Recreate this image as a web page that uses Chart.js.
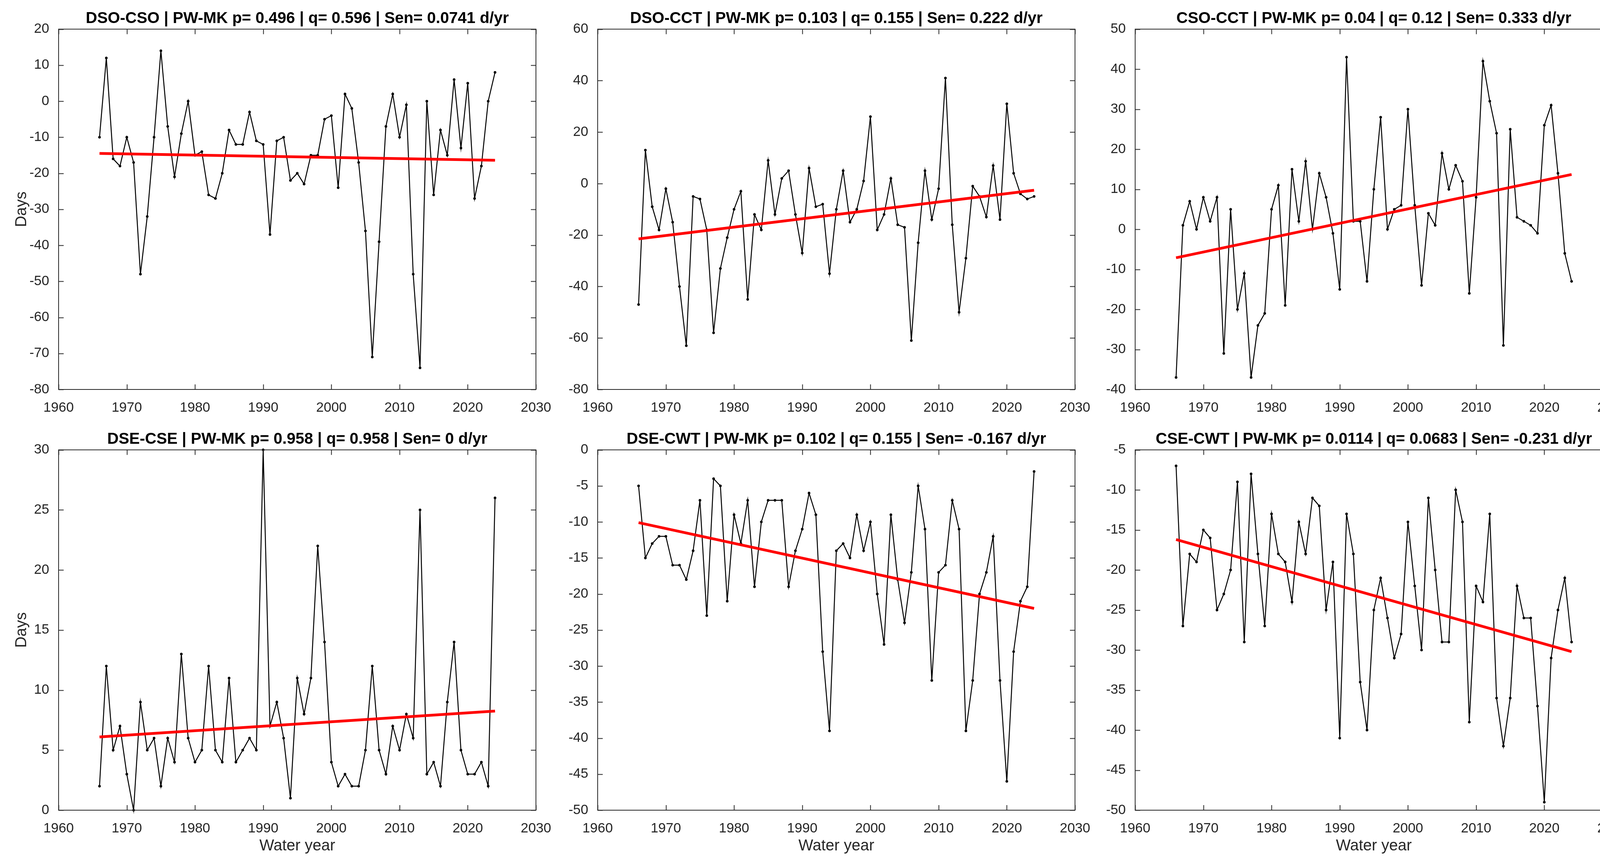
<!DOCTYPE html>
<html>
<head>
<meta charset="utf-8">
<script src="https://cdn.jsdelivr.net/npm/chart.js@4.4.1/dist/chart.umd.min.js"></script>
<style>
  html, body { margin: 0; padding: 0; background: #fff; overflow: hidden; }
  body { position: relative; width: 4204px; height: 2222px; }
  canvas { position: absolute; }
</style>
</head>
<body>
<canvas id="c0"></canvas>
<canvas id="c1"></canvas>
<canvas id="c2"></canvas>
<canvas id="c3"></canvas>
<canvas id="c4"></canvas>
<canvas id="c5"></canvas>
<script>
// water years on the x axis
const years = [1966, 1967, 1968, 1969, 1970, 1971, 1972, 1973, 1974, 1975,
  1976, 1977, 1978, 1979, 1980, 1981, 1982, 1983, 1984, 1985,
  1986, 1987, 1988, 1989, 1990, 1991, 1992, 1993, 1994, 1995,
  1996, 1997, 1998, 1999, 2000, 2001, 2002, 2003, 2004, 2005,
  2006, 2007, 2008, 2009, 2010, 2011, 2012, 2013, 2014, 2015,
  2016, 2017, 2018, 2019, 2020, 2021, 2022, 2023, 2024];

// day differences, one value per year
const dsoCso = [-10, 12, -16, -18, -10, -17, -48, -32, -10, 14,
  -7, -21, -9, 0, -15, -14, -26, -27, -20, -8,
  -12, -12, -3, -11, -12, -37, -11, -10, -22, -20,
  -23, -15, -15, -5, -4, -24, 2, -2, -17, -36,
  -71, -39, -7, 2, -10, -1, -48, -74, 0, -26,
  -8, -15, 6, -13, 5, -27, -18, 0, 8];
const dsoCct = [-47, 13, -9, -18, -2, -15, -40, -63, -5, -6,
  -18, -58, -33, -21, -10, -3, -45, -12, -18, 9,
  -12, 2, 5, -12, -27, 6, -9, -8, -35, -10,
  5, -15, -10, 1, 26, -18, -12, 2, -16, -17,
  -61, -23, 5, -14, -2, 41, -16, -50, -29, -1,
  -5, -13, 7, -14, 31, 4, -4, -6, -5];
const csoCct = [-37, 1, 7, 0, 8, 2, 8, -31, 5, -20,
  -11, -37, -24, -21, 5, 11, -19, 15, 2, 17,
  0, 14, 8, -1, -15, 43, 2, 2, -13, 10,
  28, 0, 5, 6, 30, 6, -14, 4, 1, 19,
  10, 16, 12, -16, 8, 42, 32, 24, -29, 25,
  3, 2, 1, -1, 26, 31, 14, -6, -13];
const dseCse = [2, 12, 5, 7, 3, 0, 9, 5, 6, 2,
  6, 4, 13, 6, 4, 5, 12, 5, 4, 11,
  4, 5, 6, 5, 30, 7, 9, 6, 1, 11,
  8, 11, 22, 14, 4, 2, 3, 2, 2, 5,
  12, 5, 3, 7, 5, 8, 6, 25, 3, 4,
  2, 9, 14, 5, 3, 3, 4, 2, 26];
const dseCwt = [-5, -15, -13, -12, -12, -16, -16, -18, -14, -7,
  -23, -4, -5, -21, -9, -13, -7, -19, -10, -7,
  -7, -7, -19, -14, -11, -6, -9, -28, -39, -14,
  -13, -15, -9, -14, -10, -20, -27, -9, -18, -24,
  -17, -5, -11, -32, -17, -16, -7, -11, -39, -32,
  -20, -17, -12, -32, -46, -28, -21, -19, -3];
const cseCwt = [-7, -27, -18, -19, -15, -16, -25, -23, -20, -9,
  -29, -8, -18, -27, -13, -18, -19, -24, -14, -18,
  -11, -12, -25, -19, -41, -13, -18, -34, -40, -25,
  -21, -26, -31, -28, -14, -22, -30, -11, -20, -29,
  -29, -10, -14, -39, -22, -24, -13, -36, -42, -36,
  -22, -26, -26, -37, -49, -31, -25, -21, -29];

// Sen trend line, value at first and last year
const trendDsoCso = [-14.5, -16.4];
const trendDsoCct = [-21.5, -2.6];
const trendCsoCct = [-7.1, 13.7];
const trendDseCse = [6.1, 8.25];
const trendDseCwt = [-10.1, -22.0];
const trendCseCwt = [-16.2, -30.2];

const titles = [
  "DSO-CSO | PW-MK p= 0.496 | q= 0.596 | Sen= 0.0741 d/yr",
  "DSO-CCT | PW-MK p= 0.103 | q= 0.155 | Sen= 0.222 d/yr",
  "CSO-CCT | PW-MK p= 0.04 | q= 0.12 | Sen= 0.333 d/yr",
  "DSE-CSE | PW-MK p= 0.958 | q= 0.958 | Sen= 0 d/yr",
  "DSE-CWT | PW-MK p= 0.102 | q= 0.155 | Sen= -0.167 d/yr",
  "CSE-CWT | PW-MK p= 0.0114 | q= 0.0683 | Sen= -0.231 d/yr"
];
const series = [dsoCso, dsoCct, csoCct, dseCse, dseCwt, cseCwt];
const trends = [trendDsoCso, trendDsoCct, trendCsoCct, trendDseCse, trendDseCwt, trendCseCwt];
// y axis min, max, step
const yAxes = [[-80, 20, 10], [-80, 60, 20], [-40, 50, 10], [0, 30, 5], [-50, 0, 5], [-50, -5, 5]];

const plotLeft = [150, 1530, 2906];
const plotTop = [75, 1152];
const plotW = 1222, plotH = 922;
const padL = 150, padR = 60, padT = 75, padB = 140;

Chart.defaults.font.family = "'Liberation Sans', Arial, sans-serif";
Chart.defaults.color = "#262626";

// MATLAB style box with inward ticks on all four sides
const boxPlugin = {
  id: "box",
  afterDraw(chart) {
    const ctx = chart.ctx, a = chart.chartArea;
    const sx = chart.scales.x, sy = chart.scales.y;
    const tl = 13;
    ctx.save();
    ctx.strokeStyle = "#262626";
    ctx.lineWidth = 2;
    ctx.beginPath();
    sx.ticks.forEach(t => {
      const px = Math.round(sx.getPixelForValue(t.value)) + 0.5;
      ctx.moveTo(px, a.bottom); ctx.lineTo(px, a.bottom - tl);
      ctx.moveTo(px, a.top); ctx.lineTo(px, a.top + tl);
    });
    sy.ticks.forEach(t => {
      const py = Math.round(sy.getPixelForValue(t.value)) + 0.5;
      ctx.moveTo(a.left, py); ctx.lineTo(a.left + tl, py);
      ctx.moveTo(a.right, py); ctx.lineTo(a.right - tl, py);
    });
    ctx.stroke();
    ctx.strokeRect(a.left, a.top, a.right - a.left, a.bottom - a.top);
    ctx.restore();
  }
};

for (let i = 0; i < 6; i++) {
  const col = i % 3, row = Math.floor(i / 3);
  const cv = document.getElementById("c" + i);
  const w = padL + plotW + padR, h = padT + plotH + padB;
  cv.width = w; cv.height = h;
  cv.style.left = (plotLeft[col] - padL) + "px";
  cv.style.top = (plotTop[row] - padT) + "px";
  cv.style.width = w + "px"; cv.style.height = h + "px";

  const pts = years.map((yr, k) => ({ x: yr, y: series[i][k] }));
  const tr = [{ x: years[0], y: trends[i][0] }, { x: years[years.length - 1], y: trends[i][1] }];

  new Chart(cv, {
    type: "line",
    data: {
      datasets: [
        { data: tr, borderColor: "#ff0000", borderWidth: 7, pointRadius: 0, clip: 10 },
        { data: pts, borderColor: "#000", borderWidth: 2.5, pointRadius: 3, pointBorderWidth: 1,
          pointBackgroundColor: "#000", pointBorderColor: "#000", clip: 10 }
      ]
    },
    options: {
      responsive: false,
      animation: false,
      devicePixelRatio: 1,
      layout: { padding: { left: 0, right: padR, top: 0, bottom: 0 } },
      plugins: {
        legend: { display: false },
        tooltip: { enabled: false },
        title: {
          display: true, fullSize: false, text: titles[i], color: "#000",
          font: { size: 40.5, weight: "bold" }, padding: { top: 24, bottom: 2 }
        }
      },
      scales: {
        x: {
          type: "linear", min: 1960, max: 2030,
          grid: { display: false }, border: { display: false },
          ticks: { stepSize: 10, font: { size: 35 }, padding: 18, maxRotation: 0,
            callback: v => String(v) },
          title: { display: row === 1, text: "Water year", font: { size: 40 },
            padding: { bottom: 24 } },
          afterFit: s => { s.height = padB; }
        },
        y: {
          min: yAxes[i][0], max: yAxes[i][1],
          grid: { display: false }, border: { display: false },
          ticks: { stepSize: yAxes[i][2], font: { size: 35 }, padding: 16,
            callback: v => String(v) },
          title: { display: col === 0, text: "Days", font: { size: 40 },
            padding: { top: 32 } },
          afterFit: s => { s.width = padL; }
        }
      }
    },
    plugins: [boxPlugin]
  });
}
</script>
</body>
</html>
